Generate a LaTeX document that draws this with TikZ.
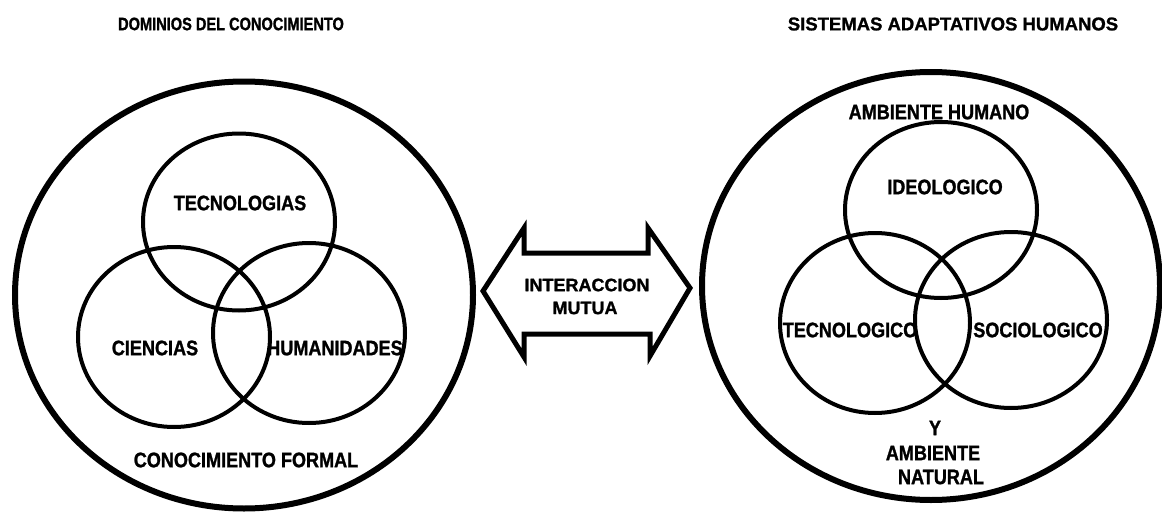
\documentclass[tikz,border=0pt]{standalone}
\usepackage{fontspec}
\setmainfont{Liberation Sans}
\newfontfamily\labelfont[FakeStretch=0.86, FakeBold=1.2]{Liberation Sans Bold}
\newfontfamily\titlefont[FakeStretch=0.81, FakeBold=1.2]{Liberation Sans Bold}
\newfontfamily\widetitlefont[FakeBold=1.2]{Liberation Sans Bold}
\newfontfamily\arrowfont[FakeBold=1.2]{Liberation Sans Bold}
\usetikzlibrary{shapes.geometric}

\begin{document}
\begin{tikzpicture}[x=1pt,y=-1pt,
  outerset/.style={draw, ellipse, line width=6pt, inner sep=0pt,
                   minimum width=458pt, minimum height=427pt},
  innerset/.style={draw, ellipse, line width=4pt, inner sep=0pt,
                   minimum width=192pt, minimum height=180pt},
  lab/.style={inner sep=0pt, font=\labelfont\fontsize{21}{22}\selectfont},
  heading/.style={inner sep=0pt, font=\titlefont\fontsize{18}{20}\selectfont},
  wideheading/.style={inner sep=0pt, font=\widetitlefont\fontsize{18.5}{20}\selectfont},
  arrowlab/.style={inner sep=0pt, font=\arrowfont\fontsize{18}{20}\selectfont},
  bigarrow/.style={line width=5pt, line join=miter}
]
\useasboundingbox (0,0) rectangle (1162,514);

% titles
\node[heading] (tleft)  at (231,24) {DOMINIOS DEL CONOCIMIENTO};
\node[wideheading] (tright) at (953,24) {SISTEMAS ADAPTATIVOS HUMANOS};

% left: domains of knowledge
\node[outerset] (formal) at (244,295) {};
\node[innerset, minimum height=177pt] (tec) at (239,222) {};
\node[innerset] (cie) at (174,337) {};
\node[innerset] (hum) at (309,333) {};
\node[lab] (ltec)  at (240,203) {TECNOLOGIAS};
\node[lab] (lcie)  at (155,348) {CIENCIAS};
\node[lab] (lhum)  at (335,348) {HUMANIDADES};
\node[lab] (lform) at (246,460) {CONOCIMIENTO FORMAL};

% right: human adaptive systems
\node[outerset, minimum height=428pt] (amb) at (931,286) {};
\node[innerset, minimum height=176pt] (ideo) at (941,210) {};
\node[innerset, minimum width=190pt] (tecn) at (875,323) {};
\node[innerset, minimum height=176pt] (soc) at (1011,320) {};
\node[lab] (lamb)  at (939,112) {AMBIENTE HUMANO};
\node[lab] (lideo) at (945,187) {IDEOLOGICO};
\node[lab] (ltecn) at (850,330) {TECNOLOGICO};
\node[lab] (lsoc)  at (1038,330) {SOCIOLOGICO};
\node[lab] (ly)    at (935,428) {Y};
\node[lab] (lamb2) at (933,453) {AMBIENTE};
\node[lab] (lnat)  at (941,477) {NATURAL};

% double-headed block arrow between the two sets
\draw[bigarrow] (483,291) -- (524,228) -- (524,253) -- (648,253) -- (648,228)
  -- (690,288) -- (650,356) -- (650,334) -- (524,334) -- (524,357) -- cycle;
\node[arrowlab] (inter) at (587,285) {INTERACCION};
\node[arrowlab] (mutua) at (585,308) {MUTUA};
\end{tikzpicture}
\end{document}
